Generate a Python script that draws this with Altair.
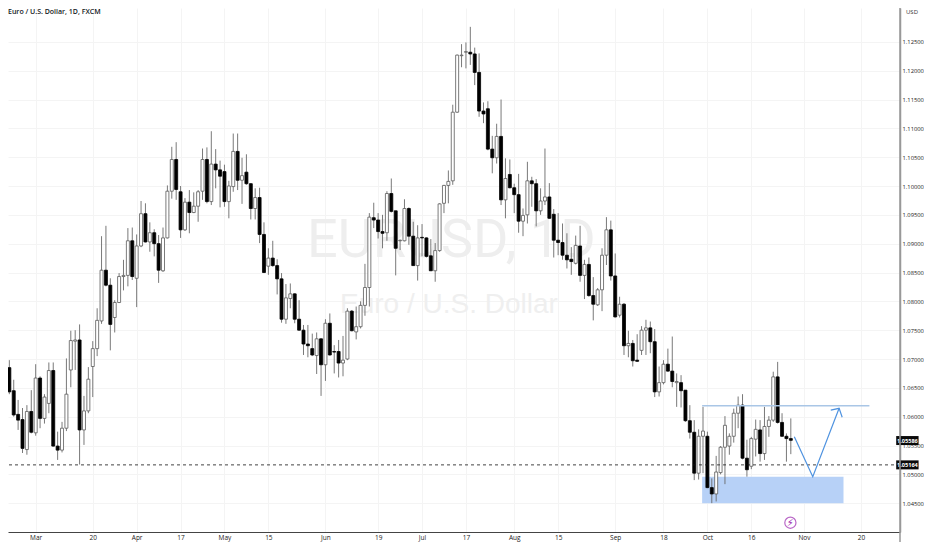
import altair as alt
import pandas as pd

opens = [1.0671,
1.0685,1.0645,1.0604,1.0595,1.0543,1.0609,1.0572,1.0667,1.0597,
1.0623,1.0680,1.0549,1.0542,1.0580,1.0681,1.0731,1.0733,1.0577,1.0610,
1.0687,1.0718,1.0766,1.0854,1.0828,1.0772,1.0798,1.0843,1.0845,1.0905,
1.0840,1.0896,1.0952,1.0903,1.0919,1.0900,1.0853,1.0910,1.0991,1.1046,
1.0990,1.0924,1.0972,1.0954,1.0965,1.0991,1.1046,1.0973,1.1038,1.1028,
1.1025,1.0973,1.0999,1.1060,1.1010,1.1024,1.1004,1.0961,1.0980,1.0916,
1.0861,1.0875,1.0862,1.0839,1.0769,1.0805,1.0813,1.0769,1.0750,1.0726,
1.0718,1.0706,1.0735,1.0690,1.0762,1.0713,1.0713,1.0693,1.0700,1.0783,
1.0747,1.0756,1.0793,1.0824,1.0945,1.0941,1.0921,1.0919,1.0987,1.0957,
1.0905,1.0905,1.0961,1.0913,1.0862,1.0911,1.0910,1.0879,1.0853,1.0888,
1.0970,1.1001,1.1009,1.1128,1.1226,1.1232,1.1232,1.1229,1.1197,1.1130,
1.1134,1.1064,1.1049,1.1086,1.0976,1.1020,1.0997,1.0985,1.0939,1.0950,
1.1009,1.1004,1.0957,1.0974,1.0981,1.0951,1.0906,1.0902,1.0880,1.0873,
1.0866,1.0896,1.0845,1.0864,1.0810,1.0794,1.0820,1.0880,1.0924,1.0844,
1.0776,1.0795,1.0723,1.0727,1.0698,1.0715,1.0750,1.0754,1.0730,1.0643,
1.0659,1.0691,1.0679,1.0659,1.0659,1.0646,1.0593,1.0573,1.0502,1.0566,
1.0566,1.0477,1.0466,1.0503,1.0547,1.0549,1.0566,1.0606,1.0620,1.0528,
1.0514,1.0561,1.0577,1.0536,1.0583,1.0594,1.0669,1.0590,1.0566,1.0562]

closes = [1.0686,
1.0643,1.0603,1.0594,1.0545,1.0609,1.0573,1.0667,1.0597,1.0634,
1.0680,1.0549,1.0542,1.0580,1.0639,1.0732,1.0733,1.0577,1.0610,1.0665,
1.0718,1.0767,1.0854,1.0828,1.0760,1.0798,1.0843,1.0845,1.0905,1.0843,
1.0896,1.0952,1.0903,1.0919,1.0900,1.0854,1.0910,1.0991,1.1046,1.0994,
1.0924,1.0972,1.0954,1.0965,1.0990,1.1046,1.0973,1.1038,1.1028,1.1017,
1.0973,1.1000,1.1060,1.1010,1.1018,1.1004,1.0961,1.0980,1.0916,1.0850,
1.0875,1.0862,1.0839,1.0769,1.0806,1.0813,1.0769,1.0750,1.0726,1.0723,
1.0707,1.0735,1.0690,1.0762,1.0707,1.0712,1.0693,1.0698,1.0783,1.0749,
1.0756,1.0793,1.0824,1.0946,1.0941,1.0921,1.0918,1.0987,1.0956,1.0892,
1.0906,1.0961,1.0913,1.0862,1.0910,1.0910,1.0878,1.0853,1.0888,1.0969,
1.1001,1.1008,1.1128,1.1227,1.1227,1.1233,1.1229,1.1197,1.1130,1.1125,
1.1064,1.1049,1.1086,1.0976,1.1013,1.0997,1.0985,1.0939,1.0949,1.1009,
1.1004,1.0957,1.0974,1.0981,1.0944,1.0906,1.0902,1.0880,1.0872,1.0869,
1.0897,1.0845,1.0864,1.0810,1.0795,1.0820,1.0880,1.0924,1.0844,1.0773,
1.0795,1.0723,1.0727,1.0697,1.0696,1.0750,1.0754,1.0730,1.0643,1.0659,
1.0691,1.0679,1.0661,1.0661,1.0645,1.0593,1.0573,1.0502,1.0566,1.0575,
1.0477,1.0466,1.0504,1.0547,1.0585,1.0566,1.0606,1.0620,1.0528,1.0508,
1.0562,1.0578,1.0536,1.0583,1.0594,1.0669,1.0590,1.0566,1.0562,1.0559]

highs = [1.0705,
1.0698,1.0664,1.0629,1.0615,1.0620,1.0646,1.0691,1.0670,1.0639,
1.0694,1.0694,1.0574,1.0591,1.0701,1.0749,1.0750,1.0760,1.0636,1.0686,
1.0731,1.0788,1.0913,1.0931,1.0840,1.0802,1.0849,1.0872,1.0927,1.0928,
1.0916,1.0974,1.0970,1.0937,1.0925,1.0915,1.0928,1.1001,1.1068,1.1076,
1.1000,1.0979,1.0993,1.0989,1.0993,1.1065,1.1067,1.1095,1.1064,1.1044,
1.1037,1.1009,1.1091,1.1091,1.1049,1.1055,1.1005,1.0996,1.0997,1.0937,
1.0892,1.0905,1.0873,1.0849,1.0830,1.0831,1.0814,1.0802,1.0759,1.0759,
1.0744,1.0746,1.0736,1.0769,1.0779,1.0724,1.0733,1.0740,1.0788,1.0785,
1.0791,1.0800,1.0865,1.0953,1.0971,1.0953,1.0950,1.0991,1.1013,1.0957,
1.0907,1.0977,1.0963,1.0938,1.0932,1.0934,1.0911,1.0908,1.0901,1.0970,
1.1002,1.1027,1.1141,1.1228,1.1246,1.1249,1.1276,1.1240,1.1230,1.1145,
1.1147,1.1087,1.1108,1.1150,1.1048,1.1046,1.1004,1.1021,1.0961,1.1042,
1.1016,1.1012,1.0996,1.1065,1.1005,1.0960,1.0953,1.0935,1.0918,1.0894,
1.0914,1.0931,1.0872,1.0876,1.0842,1.0823,1.0892,1.0946,1.0940,1.0883,
1.0808,1.0797,1.0749,1.0733,1.0743,1.0757,1.0768,1.0765,1.0752,1.0687,
1.0698,1.0718,1.0739,1.0675,1.0672,1.0646,1.0620,1.0594,1.0578,1.0617,
1.0574,1.0493,1.0532,1.0549,1.0601,1.0571,1.0614,1.0635,1.0639,1.0560,
1.0565,1.0595,1.0594,1.0617,1.0601,1.0678,1.0695,1.0606,1.0571,1.0597]

lows = [1.0670,
1.0639,1.0600,1.0577,1.0537,1.0534,1.0571,1.0567,1.0580,1.0588,
1.0606,1.0548,1.0525,1.0538,1.0575,1.0651,1.0681,1.0517,1.0551,1.0606,
1.0634,1.0705,1.0761,1.0826,1.0715,1.0746,1.0797,1.0819,1.0826,1.0837,
1.0790,1.0894,1.0902,1.0886,1.0878,1.0832,1.0851,1.0909,1.0978,1.0976,
1.0910,1.0922,1.0918,1.0953,1.0938,1.0976,1.0970,1.0967,1.0996,1.0963,
1.0964,1.0944,1.0990,1.0993,1.0969,1.1002,1.0942,1.0942,1.0901,1.0849,
1.0846,1.0860,1.0812,1.0763,1.0761,1.0788,1.0762,1.0749,1.0707,1.0703,
1.0705,1.0674,1.0636,1.0662,1.0706,1.0675,1.0668,1.0670,1.0698,1.0748,
1.0734,1.0753,1.0775,1.0791,1.0927,1.0909,1.0892,1.0905,1.0954,1.0845,
1.0889,1.0904,1.0898,1.0862,1.0836,1.0878,1.0876,1.0853,1.0834,1.0886,
1.0953,1.0970,1.1002,1.1127,1.1206,1.1204,1.1210,1.1175,1.1120,1.1109,
1.1062,1.1022,1.1039,1.0967,1.0944,1.0996,1.0953,1.0919,1.0913,1.0935,
1.0964,1.0930,1.0950,1.0967,1.0943,1.0876,1.0880,1.0872,1.0857,1.0846,
1.0864,1.0834,1.0804,1.0808,1.0767,1.0792,1.0783,1.0863,1.0836,1.0772,
1.0772,1.0707,1.0703,1.0687,1.0695,1.0707,1.0707,1.0710,1.0634,1.0635,
1.0656,1.0678,1.0651,1.0617,1.0616,1.0591,1.0562,1.0490,1.0491,1.0502,
1.0476,1.0450,1.0453,1.0500,1.0483,1.0534,1.0555,1.0580,1.0526,1.0496,
1.0509,1.0531,1.0522,1.0525,1.0565,1.0591,1.0588,1.0565,1.0522,1.0535]

tick_index = [7, 20, 30, 40, 50, 60, 73, 85, 95, 105, 116, 126, 139, 150, 160, 170, 182, 195]
tick_label = ["Mar", "20", "Apr", "17", "May", "15", "Jun", "19", "Jul", "17", "Aug", "15", "Sep", "18", "Oct", "16", "Nov", "20"]
price_ticks = [1.045, 1.05, 1.055, 1.06, 1.065, 1.07, 1.075, 1.08, 1.085, 1.09, 1.095, 1.10, 1.105, 1.11, 1.115, 1.12, 1.125]

last_price = 1.05586
level_price = 1.05164

zone_x = [158.8, 191.0]
zone_y = [1.0450, 1.0496]
res_x = [158.8, 196.9]
res_y = 1.0619
path_x = [179.8, 184.0, 190.0]
path_y = [1.05652, 1.04958, 1.06145]
head_x = [188.1, 190.0, 190.7]
head_y = [1.06115, 1.06145, 1.0599]

FONT = "Open Sans"
X_DOM = [1.833, 202.73]
Y_DOM = [1.04000, 1.13087]

df = pd.DataFrame({
    "i": list(range(len(opens))),
    "open": opens, "high": highs, "low": lows, "close": closes,
})
df["dir"] = ["up" if c >= o else "down" for o, c in zip(opens, closes)]

x_axis = alt.Axis(
    values=tick_index,
    labelExpr="%s[indexof(%s, datum.value)]" % (tick_label, tick_index),
    title=None, grid=True, gridColor="#f4f4f4", gridWidth=1,
    domainColor="#444444", domainWidth=1, ticks=False,
    labelFont=FONT, labelFontSize=6.5, labelColor="#222222", labelPadding=2,
    labelOverlap=False, labelFlush=False,
)
y_axis = alt.Axis(
    orient="right", values=price_ticks, format=".5f",
    title=None, grid=True, gridColor="#f4f4f4", gridWidth=1,
    domainColor="#999999", domainWidth=1.5, ticks=False,
    labelFont=FONT, labelFontSize=5.8, labelColor="#222222", labelPadding=2,
    labelOverlap=False,
)
x_scale = alt.Scale(domain=X_DOM, nice=False, zero=False)
y_scale = alt.Scale(domain=Y_DOM, nice=False, zero=False)

def XA(f):
    return alt.X(f, scale=x_scale, axis=x_axis)

def YA(f):
    return alt.Y(f, scale=y_scale, axis=y_axis)

base = alt.Chart(df)
wicks = base.mark_rule(color="#6a6a6a", strokeWidth=0.9, clip=True).encode(
    x=XA("i:Q"), y=YA("low:Q"), y2="high:Q")
bodies = base.mark_bar(size=3, strokeWidth=0.8, clip=True).encode(
    x=XA("i:Q"),
    y=YA("open:Q"), y2="close:Q",
    fill=alt.Fill("dir:N", scale=alt.Scale(domain=["up", "down"], range=["#ffffff", "#000000"]), legend=None),
    stroke=alt.Stroke("dir:N", scale=alt.Scale(domain=["up", "down"], range=["#5a5a5a", "#000000"]), legend=None),
)

def pix_text(text, x, y, size, color, weight="normal", font=FONT, align="left"):
    return alt.Chart(pd.DataFrame({"t": [text]})).mark_text(
        font=font, fontSize=size, color=color, fontWeight=weight, align=align, baseline="alphabetic"
    ).encode(text="t:N", x=alt.value(x), y=alt.value(y))

watermark1 = pix_text("EURUSD, 1D", 299, 249, 54, "#eeeeee", font="Roboto")
watermark2 = pix_text("Euro / U.S. Dollar", 332, 305, 28, "#efefef", font="Liberation Sans")
title = pix_text("Euro / U.S. Dollar, 1D, FXCM", 0, 6, 7, "#131722", weight=600)
usd = pix_text("USD", 898, 6, 6, "#333333")

zone = alt.Chart(pd.DataFrame({"x": [zone_x[0]], "x2": [zone_x[1]], "y": [zone_y[0]], "y2": [zone_y[1]]})).mark_rect(
    color="#b7d1f7").encode(x=XA("x:Q"), x2="x2:Q", y=YA("y:Q"), y2="y2:Q")
res = alt.Chart(pd.DataFrame({"x": [res_x[0]], "x2": [res_x[1]], "y": [res_y]})).mark_rule(
    color="#a9c6e6", strokeWidth=1.5).encode(x=XA("x:Q"), x2="x2:Q", y=YA("y:Q"))
path = alt.Chart(pd.DataFrame({"x": path_x, "y": path_y, "o": [0, 1, 2]})).mark_line(
    color="#4f93e0", strokeWidth=1.2).encode(x=XA("x:Q"), y=YA("y:Q"), order="o:Q")
head = alt.Chart(pd.DataFrame({"x": head_x, "y": head_y, "o": [0, 1, 2]})).mark_line(
    color="#4f93e0", strokeWidth=1.2).encode(x=XA("x:Q"), y=YA("y:Q"), order="o:Q")
level = alt.Chart(pd.DataFrame({"y": [level_price]})).mark_rule(
    color="#111111", strokeWidth=0.8, strokeDash=[3, 3]).encode(y=YA("y:Q"))

def tag(price):
    d = pd.DataFrame({"x": [203.0], "x2": [208.1], "xm": [205.55], "y": [price - 0.00078], "y2": [price + 0.00078],
                      "p": [price], "t": ["%.5f" % price]})
    box = alt.Chart(d).mark_rect(color="#0a0a0a", clip=False).encode(
        x=XA("x:Q"), x2="x2:Q", y=YA("y:Q"), y2="y2:Q")
    txt = alt.Chart(d).mark_text(color="#ffffff", font=FONT, fontSize=5.6, fontWeight="bold", clip=False).encode(
        x=XA("xm:Q"), y=YA("p:Q"), text="t:N")
    return box + txt

icon_df = pd.DataFrame({"x": [178.9], "y": [1.04161], "t": ["⚡"]})
icon = alt.Chart(icon_df).mark_point(shape="circle", filled=False, color="#9c27b0", size=125, strokeWidth=1.2).encode(
    x=XA("x:Q"), y=YA("y:Q"))
bolt = alt.Chart(icon_df).mark_text(font="DejaVu Sans", fontSize=10, fontWeight="bold", color="#9c27b0").encode(
    x=XA("x:Q"), y=YA("y:Q"), text="t:N")

right_line = alt.Chart(pd.DataFrame({"a": [0]})).mark_rule(color="#999999", strokeWidth=1.5, clip=False).encode(
    x=alt.value(892), y=alt.value(0), y2=alt.value(534))

chart = alt.layer(
    watermark1, watermark2, zone, wicks, bodies, level, res, path, head,
    tag(last_price), tag(level_price), icon, bolt, title, usd, right_line,
).properties(
    width=892, height=524,
    padding={"left": 0, "top": 0, "right": 24, "bottom": 10},
    autosize=alt.AutoSizeParams(type="none"),
    background="#ffffff",
).configure_view(stroke=None)

chart.save("out.html", embed_options={"renderer": "svg", "actions": False})
